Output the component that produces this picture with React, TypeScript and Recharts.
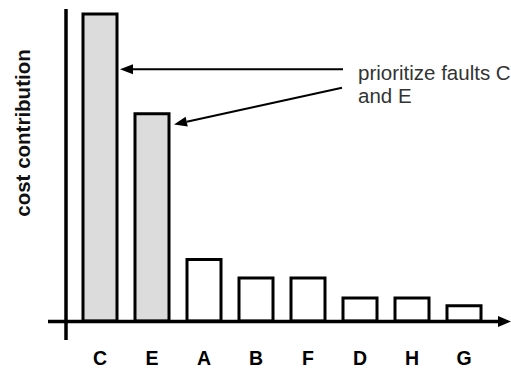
import React from 'react';
import { BarChart, Bar, XAxis, YAxis, Cell } from 'recharts';

const faults = ['C', 'E', 'A', 'B', 'F', 'D', 'H', 'G'];
const costs = [100, 67.5, 20, 14, 14, 7.5, 7.5, 5];
const prioritized = ['C', 'E'];

const data = faults.map((f, i) => ({ fault: f, cost: costs[i] }));

const W = 511;
const H = 368;
const margin = { top: 14, right: 21, left: 74, bottom: 0 };
const xAxisHeight = 47;
const yMax = 100;
const barSize = 34;
const font = "Arial, 'Liberation Sans', Helvetica, sans-serif";

const plotLeft = margin.left;
const plotTop = margin.top;
const plotW = W - margin.left - margin.right;
const plotH = H - margin.top - margin.bottom - xAxisHeight;
const band = plotW / faults.length;
const xc = (f: string) => plotLeft + band * (faults.indexOf(f) + 0.5);
const yv = (v: number) => plotTop + plotH * (1 - v / yMax);

const Arrow = ({ x1, y1, x2, y2 }: { x1: number; y1: number; x2: number; y2: number }) => {
  const a = Math.atan2(y2 - y1, x2 - x1);
  const len = 13;
  const hw = 5;
  const bx = x2 - len * Math.cos(a);
  const by = y2 - len * Math.sin(a);
  const px = -Math.sin(a) * hw;
  const py = Math.cos(a) * hw;
  return (
    <g>
      <line x1={x1} y1={y1} x2={bx} y2={by} stroke="#000" strokeWidth={2} />
      <polygon points={`${x2},${y2} ${bx + px},${by + py} ${bx - px},${by - py}`} fill="#000" />
    </g>
  );
};

// tick label, baseline about 44px below the axis
const FaultTick = (props: any) => {
  const { x, y, payload } = props;
  return (
    <text x={x} y={y + 44} textAnchor="middle" fontFamily={font} fontWeight="bold" fontSize={19.5} fill="#000">
      {payload.value}
    </text>
  );
};

const Overlay = () => {
  const base = yv(0);
  const textX = 358;
  return (
    <svg width={W} height={H} style={{ position: 'absolute', left: 0, top: 0, pointerEvents: 'none' }}>
      {/* axes */}
      <line x1={66} y1={9} x2={66} y2={340} stroke="#000" strokeWidth={3.5} />
      <line x1={48} y1={base + 0.5} x2={500} y2={base + 0.5} stroke="#000" strokeWidth={3.5} />
      <polygon points={`511,${base + 0.5} 498,${base - 5} 498,${base + 6}`} fill="#000" />
      {/* y label */}
      <text
        x={22}
        y={133}
        transform="rotate(-90 22 133)"
        textAnchor="middle"
        dominantBaseline="central"
        fontFamily={font}
        fontWeight="bold"
        fontSize={20.5}
        fill="#111"
      >
        cost contribution
      </text>
      {/* annotation */}
      <Arrow x1={343} y1={yv(82)} x2={xc('C') + barSize / 2 + 3} y2={yv(82)} />
      <Arrow x1={342} y1={yv(76)} x2={xc('E') + barSize / 2 + 5} y2={yv(64)} />
      <text x={textX} y={80} fontFamily={font} fontSize={20.5} fill="#333">
        prioritize faults C
      </text>
      <text x={textX} y={103} fontFamily={font} fontSize={20.5} fill="#333">
        and E
      </text>
    </svg>
  );
};

export default function App() {
  return (
    <div style={{ position: 'absolute', left: 0, top: 0, width: W, height: H, background: '#fff' }}>
      <BarChart width={W} height={H} data={data} margin={margin} barSize={barSize}>
        <XAxis
          dataKey="fault"
          height={xAxisHeight}
          axisLine={false}
          tickLine={false}
          tickSize={0}
          tickMargin={0}
          interval={0}
          tick={<FaultTick />}
        />
        <YAxis hide domain={[0, yMax]} />
        <Bar dataKey="cost" stroke="#000" strokeWidth={3} isAnimationActive={false}>
          {data.map((d) => (
            <Cell key={d.fault} fill={prioritized.includes(d.fault) ? '#dcdcdc' : '#fff'} />
          ))}
        </Bar>
      </BarChart>
      <Overlay />
    </div>
  );
}
